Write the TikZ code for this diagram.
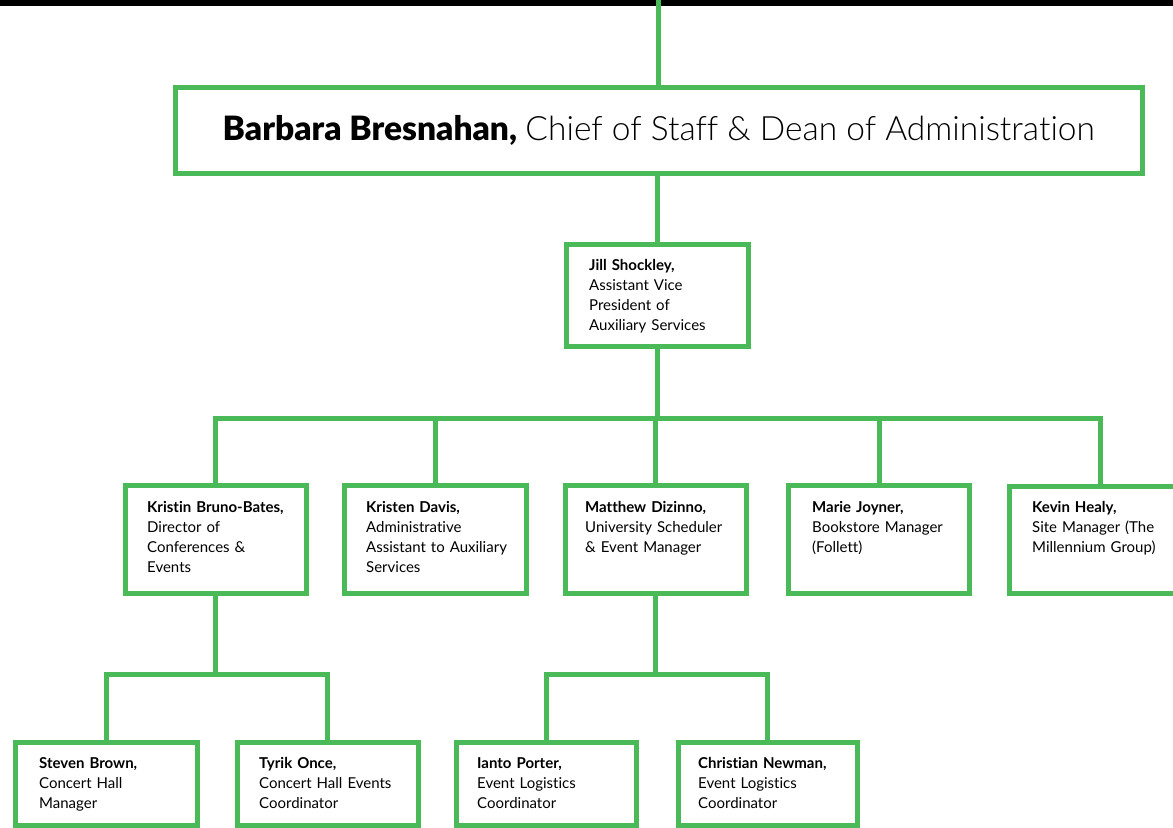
\documentclass[tikz,border=0pt]{standalone}
\usepackage{fontspec}
\setmainfont{Lato}[Ligatures=NoCommon]
\newfontfamily\blackfont{Lato Black}[Ligatures=NoCommon]
\newfontfamily\lightfont{Lato Light}[Ligatures=NoCommon]
\definecolor{grn}{RGB}{74,185,88}
\begin{document}
\begin{tikzpicture}[x=1bp,y=-1bp,
 box/.style={draw=grn,line width=5bp,minimum width=181bp,minimum height=108bp,inner sep=0pt,outer sep=0pt},
 lnk/.style={draw=grn,line width=5bp},
 txt/.style={anchor=base west,inner sep=0pt,text width=175bp,align=left,font=\fontsize{15bp}{20bp}\selectfont}]
\useasboundingbox (0,0) rectangle (1173,828);
\clip (0,0) rectangle (1173,828);
\fill[black] (0,0) rectangle (1173,5.5);
% boxes
\node[box,minimum width=966.5bp,minimum height=86.5bp,font=\fontsize{33.5bp}{40bp}\selectfont] (top) at (658.75,130.25)
  {{\blackfont Barbara Bresnahan,} {\lightfont Chief of Staff \& Dean of Administration}};
\node[box,minimum width=182bp,minimum height=101.5bp] (jill) at (657,295.25) {};
\node[box] (kbb) at (215.5,539.5) {};
\node[box,minimum width=181.5bp] (kd) at (435.25,539.5) {};
\node[box,minimum width=181.5bp] (md) at (655.75,539.5) {};
\node[box] (mj) at (879,539.5) {};
\node[box,minimum width=181.5bp,minimum height=107bp] (kh) at (1100.25,540) {};
\node[box,minimum width=182bp,minimum height=83bp] (sb) at (106.5,783.5) {};
\node[box,minimum width=180.5bp,minimum height=83bp] (to) at (327.75,783.5) {};
\node[box,minimum width=180bp,minimum height=83bp] (ip) at (546,783.5) {};
\node[box,minimum width=179.5bp,minimum height=83bp] (cn) at (767.75,783.5) {};
% texts
\node[txt] (jillT) at (589,270) {\textbf{Jill Shockley,}\\Assistant Vice\\President of\\Auxiliary Services};
\node[txt] (kbbT) at (147,512) {\textbf{Kristin Bruno-Bates,}\\Director of\\Conferences \&\\Events};
\node[txt] (kdT) at (366,512) {\textbf{Kristen Davis,}\\Administrative\\Assistant to Auxiliary\\Services};
\node[txt] (mdT) at (585,512) {\textbf{Matthew Dizinno,}\\University Scheduler\\\& Event Manager};
\node[txt] (mjT) at (812,512) {\textbf{Marie Joyner,}\\Bookstore Manager\\(Follett)};
\node[txt] (khT) at (1032,512) {\textbf{Kevin Healy,}\\Site Manager (The\\Millennium Group)};
\node[txt] (sbT) at (39,768) {\textbf{Steven Brown,}\\Concert Hall\\Manager};
\node[txt] (toT) at (259,768) {\textbf{Tyrik Once,}\\Concert Hall Events\\Coordinator};
\node[txt] (ipT) at (477,768) {\textbf{Ianto Porter,}\\Event Logistics\\Coordinator};
\node[txt] (cnT) at (698,768) {\textbf{Christian Newman,}\\Event Logistics\\Coordinator};
% connectors
\coordinate (topin) at (658,0);
\coordinate (b2) at (657,418.5);
\coordinate (b3) at (0,674);
\draw[lnk] (topin) -- (topin |- top.north);
\draw[lnk] (top.south -| jill.north) -- (jill.north);
\draw[lnk] (jill.south) -- (b2);
\draw[lnk] (kbb.north) |- (b2) -| (kh.north);
\draw[lnk] (kd.north) -- (kd.north |- b2);
\draw[lnk] (md.north) -- (md.north |- b2);
\draw[lnk] (mj.north) -- (mj.north |- b2);
\draw[lnk] (kbb.south) -- (kbb.south |- b3);
\draw[lnk] (sb.north) |- (kbb.south |- b3) -| (to.north);
\draw[lnk] (md.south) -- (md.south |- b3);
\draw[lnk] (ip.north) |- (md.south |- b3) -| (cn.north);
\end{tikzpicture}
\end{document}
